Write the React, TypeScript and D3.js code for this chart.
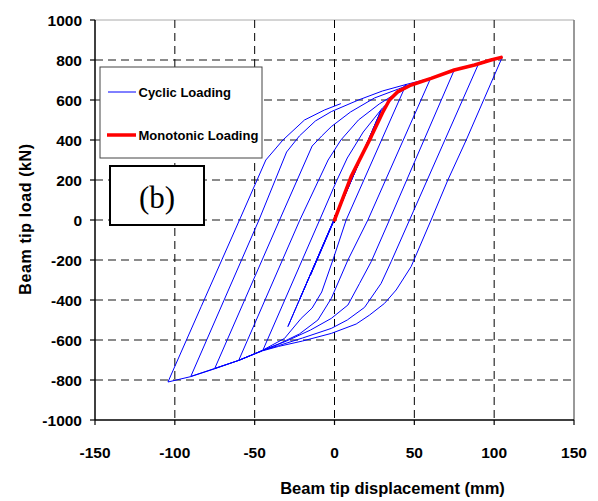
import React from "react";
import * as d3 from "d3";

const width = 598;
const height = 501;

// axis ticks
const xTicks = [-150, -100, -50, 0, 50, 100, 150];
const yTicks = [-1000, -800, -600, -400, -200, 0, 200, 400, 600, 800, 1000];
const xGrid = [-100, -50, 0, 50, 100];
const yGrid = [-800, -600, -400, -200, 0, 200, 400, 600, 800];

// monotonic test (displacement mm, load kN)
const monotonic: [number, number][] = [
  [0, 0], [10.4, 217], [23, 417], [30, 535], [34.4, 600], [39.7, 642], [48, 675],
  [60.5, 708], [75, 750], [87.7, 775], [98, 800], [104.4, 813],
];

// cyclic test, branch by branch
const elastic: [number, number][] = [
  [0, 0], [15, 280], [-15, -275], [22, 410], [-22, -400], [29, 545], [-29.2, -533], [29, 545], [45, 680],
];
const unload45: [number, number][] = [
  [45, 680], [7.3, 0], [-1, -200], [-8, -360], [-14, -440], [-20.9, -492], [-31.3, -592], [-44.8, -650],
];
const reload45: [number, number][] = [
  [-44.8, -650], [-9.3, 0], [1, 190], [8, 310], [18, 440], [30, 560], [40, 635], [50, 683], [60, 705],
];
const unload60: [number, number][] = [
  [60, 705], [20.9, 0], [8.4, -200], [-2, -392], [-10.4, -500], [-22, -570], [-35, -620], [-45, -652], [-60, -702],
];
const reload60: [number, number][] = [
  [-60, -702], [-21.7, 0], [-4, 300], [4, 400], [15, 500], [28, 580], [40, 640], [50, 683], [62, 712], [75, 750],
];
const unload75: [number, number][] = [
  [75, 750], [34.4, 0], [23, -208], [15.7, -317], [8.4, -425], [-2, -492], [-15, -550], [-30, -605],
  [-45, -652], [-60, -702], [-75, -742],
];
const reload75: [number, number][] = [
  [-75, -742], [-34.4, 0], [-14, 370], [-8, 420], [-2, 467], [10, 540], [25, 610], [40, 655], [50, 685],
  [62, 712], [75, 750], [90, 777],
];
const unload90: [number, number][] = [
  [90, 777], [47, 0], [35.5, -208], [29.2, -317], [18.8, -437], [8, -500], [-2, -542], [-20, -590],
  [-35, -628], [-45, -652], [-60, -702], [-75, -742], [-90, -782],
];
const reload90: [number, number][] = [
  [-90, -782], [-47.3, 0], [-30, 340], [-22, 420], [-12, 495], [-2, 542], [15, 600], [30, 645], [45, 678],
  [60, 708], [75, 750], [90, 777], [105, 813],
];
const unload105: [number, number][] = [
  [105, 813], [82.5, 400], [71, 200], [60.5, 0], [48, -233], [38.6, -350], [31.3, -417], [22, -475],
  [13.6, -520], [-2, -567], [-20, -605], [-35, -632], [-45, -654], [-60, -702], [-75, -744], [-90, -783],
  [-104.3, -810],
];
const reload105: [number, number][] = [
  [-104.3, -810], [-83.5, -433], [-59.5, 0], [-43, 300], [-32.3, 400], [-18.8, 500], [-6.3, 550], [4, 582],
];

const cyclic = [
  ...elastic, ...unload45, ...reload45, ...unload60, ...reload60, ...unload75, ...reload75,
  ...unload90, ...reload90, ...unload105, ...reload105,
];

const font = "'Liberation Sans', Arial, sans-serif";

export default function App() {
  const x = d3.scaleLinear().domain([-150, 150]).range([95, 574]);
  const y = d3.scaleLinear().domain([-1000, 1000]).range([420, 20]);
  const line = d3
    .line<[number, number]>()
    .x((d) => x(d[0]))
    .y((d) => y(d[1]));

  return (
    <svg
      width={width}
      height={height}
      style={{ position: "absolute", left: 0, top: 0, background: "#fff" }}
      fontFamily={font}
    >
      <rect width={width} height={height} fill="#fff" />
      {/* frame */}
      <line x1={x(-150)} x2={x(150)} y1={y(1000)} y2={y(1000)} stroke="#aaa" strokeWidth={1} />
      <line x1={x(150)} x2={x(150)} y1={y(1000)} y2={y(-1000)} stroke="#777" strokeWidth={1.5} />

      {/* grid */}
      {yGrid.map((v) => (
        <line key={"hy" + v} x1={x(-150)} x2={x(150)} y1={y(v)} y2={y(v)}
          stroke="#666" strokeWidth={1.5} strokeDasharray="8,5" />
      ))}
      {xGrid.map((v) => (
        <line key={"gx" + v} x1={x(v)} x2={x(v)} y1={y(1000)} y2={y(-1000)}
          stroke="#000" strokeWidth={1} strokeDasharray="8,5" />
      ))}

      {/* curves */}
      <path d={line(cyclic) || ""} fill="none" stroke="#0000ff" strokeWidth={1} strokeLinejoin="round" />
      <path d={line(monotonic) || ""} fill="none" stroke="#ff0000" strokeWidth={3.5}
        strokeLinejoin="round" strokeLinecap="round" />

      {/* axes */}
      <line x1={x(-150)} x2={x(-150)} y1={y(1000)} y2={y(-1000)} stroke="#000" strokeWidth={1.5} />
      <line x1={x(-150)} x2={x(150)} y1={y(-1000)} y2={y(-1000)} stroke="#000" strokeWidth={1.5} />
      {yTicks.map((v) => (
        <g key={"ty" + v}>
          <line x1={x(-150) - 5} x2={x(-150)} y1={y(v)} y2={y(v)} stroke="#000" strokeWidth={1.2} />
          <text x={82} y={y(v)} dy="0.36em" textAnchor="end" fontSize={15.5} fontWeight="bold">{v}</text>
        </g>
      ))}
      {xTicks.map((v) => (
        <g key={"tx" + v}>
          <line x1={x(v)} x2={x(v)} y1={y(-1000)} y2={y(-1000) + 5} stroke="#000" strokeWidth={1.2} />
          <text x={x(v)} y={457.5} textAnchor="middle" fontSize={15.5} fontWeight="bold">{v}</text>
        </g>
      ))}

      <text x={392.5} y={493.5} textAnchor="middle" fontSize={16.5} fontWeight="bold">
        Beam tip displacement (mm)
      </text>
      <text transform="translate(31,219) rotate(-90)" textAnchor="middle" fontSize={16} fontWeight="bold"
        letterSpacing={0.6}>
        Beam tip load (kN)
      </text>

      {/* legend */}
      <rect x={100} y={67} width={162} height={91} fill="#fff" stroke="#444" strokeWidth={1} />
      <line x1={108} x2={136} y1={92} y2={92} stroke="#0000ff" strokeWidth={1} />
      <text x={138.5} y={92} dy="0.36em" fontSize={13} fontWeight="bold">Cyclic Loading</text>
      <line x1={107} x2={136} y1={135} y2={135} stroke="#ff0000" strokeWidth={3.5} />
      <text x={138.5} y={135} dy="0.36em" fontSize={13} fontWeight="bold">Monotonic Loading</text>

      {/* panel label */}
      <rect x={110} y={166} width={94} height={59} fill="#fff" stroke="#000" strokeWidth={2} />
      <text x={157} y={208} textAnchor="middle" fontSize={31} fontFamily="'Liberation Serif', 'Times New Roman', serif">
        (b)
      </text>
    </svg>
  );
}
